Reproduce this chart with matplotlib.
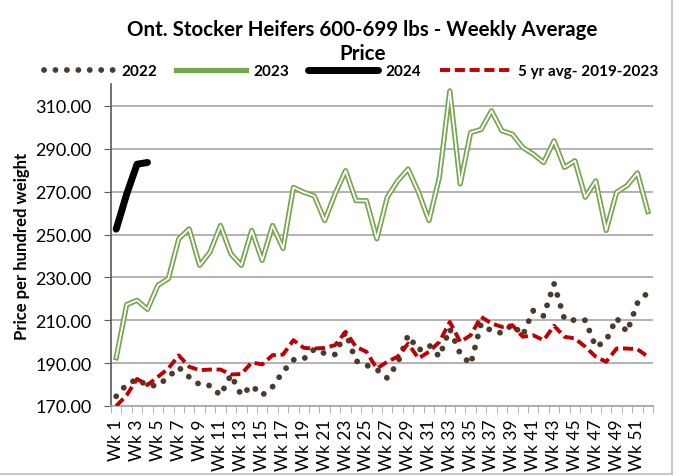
import matplotlib.pyplot as plt
from matplotlib.lines import Line2D
import numpy as np

plt.rcParams['font.family'] = ['Lato', 'DejaVu Sans']

# data
weeks = [f'Wk {i}' for i in range(1, 53)]

y2022 = [174.5, 180, 182.5, 179.5, 179.5, 183.5, 188, 183.5, 180, 179.5,
         175, 184.5, 175, 179.5, 175, 179, 186, 191.5, 192, 196.5,
         194.5, 194, 204.5, 191, 189, 187, 183, 190, 203, 196,
         198.5, 193, 206, 194.3, 189.5, 208.3, 205, 204, 208, 203,
         214.5, 212, 227, 210.5, 210, 210, 197.5, 200.5, 211, 204.5,
         218, 223]

y2023 = [192.5, 217.3, 219.3, 215.1, 226.3, 229.4, 248, 252.6, 235.6, 241.8,
         254.2, 241, 235.6, 251.9, 237.9, 254.2, 243.5, 272, 269.7, 268,
         256.5, 269, 279.8, 265.8, 265.8, 248, 267.4, 275, 280.5, 269.7,
         256.5, 276.7, 317, 273.6, 297.6, 299, 307.7, 298.4, 296.8, 290.6,
         287.5, 283.6, 293.7, 281.3, 284.4, 267.4, 275, 251.9, 269.7, 272.8,
         278.7, 260.7]

y2024 = [252.5, 268.8, 282.8, 283.6]

avg5 = [170, 175, 182.6, 179.8, 183.6, 187.5, 193.6, 188.3, 186.7, 187,
        187, 184.7, 184.9, 190.3, 189.4, 193.7, 194, 200.7, 197.1, 196.8,
        197.1, 198.4, 204.6, 197.6, 195.3, 187.5, 190.6, 193, 199.1, 192.2,
        195.3, 199.9, 209.2, 199.9, 203, 211.6, 208.5, 206.9, 207.7, 202.3,
        203, 200.7, 207.4, 202.3, 201.5, 197.6, 193, 190.6, 196.8, 196.8,
        196.5, 193]

c22, c23, c24, cavg = '#4B3A2E', '#77A64F', 'black', '#C00000'
dots = (0, (0.01, 1.95))
dashes = (0, (2.6, 1.2))

fig = plt.figure(figsize=(6.81, 4.77), dpi=100)
ax = fig.add_axes([0.163, 0.1468, 0.796, 0.674])

x = np.arange(len(weeks))

# 2022 - round dots
ax.plot(x, y2022, color=c22, lw=4.2, linestyle=dots, dash_capstyle='round', zorder=3)
# 2023 - double line (green with white core)
ax.plot(x, y2023, color=c23, lw=3.8, zorder=4)
ax.plot(x, y2023, color='white', lw=1.3, zorder=5)
# 2024 - thick black
ax.plot(np.arange(len(y2024)), y2024, color=c24, lw=5, solid_capstyle='round', zorder=6)
# 5 yr avg - red dashed
ax.plot(x, avg5, color=cavg, lw=2.8, linestyle=dashes, zorder=3)

ax.set_xlim(-0.5, len(weeks) - 0.5)
ax.set_ylim(170, 320)
yt = np.arange(170, 311, 20)
ax.set_yticks(yt)
ax.set_yticklabels([f'{v:.2f}' for v in yt])
ax.grid(axis='y', color='#A6A6A6', lw=1.2)
ax.set_axisbelow(True)

# category ticks between weeks, labels every other week
ax.set_xticks(x[::2])
ax.set_xticklabels(weeks[::2], rotation=90)
ax.set_xticks(np.arange(-0.5, len(weeks)), minor=True)
ax.tick_params(axis='x', which='major', length=0, labelsize=12.5, pad=9)
ax.tick_params(axis='x', which='minor', length=5, color='#A6A6A6')
ax.tick_params(axis='y', length=5, color='#595959', labelsize=13, pad=9)

for s in ['top', 'right']:
    ax.spines[s].set_visible(False)
ax.spines['left'].set_color('#595959')
ax.spines['left'].set_linewidth(1.2)
ax.spines['bottom'].set_color('#A6A6A6')
ax.spines['bottom'].set_linewidth(1.2)

ax.set_ylabel('Price per hundred weight', fontsize=12, fontweight='bold', labelpad=4)

fig.text(0.532, 0.912, 'Ont. Stocker Heifers 600-699 lbs - Weekly Average\nPrice',
         ha='center', va='center', fontsize=14.8, fontweight='bold',
         linespacing=1.2)

handles = [
    Line2D([], [], color=c22, lw=4.2, linestyle=dots, dash_capstyle='round'),
    Line2D([], [], color=c23, lw=3.8),
    Line2D([], [], color=c24, lw=5, solid_capstyle='round'),
    Line2D([], [], color=cavg, lw=2.8, linestyle=dashes),
]
fig.legend(handles, ['2022', '2023', '2024', '5 yr avg- 2019-2023'],
           loc='center', bbox_to_anchor=(0.515, 0.849), ncol=4,
           frameon=False, handlelength=4.6, handletextpad=0.5,
           columnspacing=1.2, prop={'weight': 'bold', 'size': 11})

# chart border (right and bottom edges visible)
fig.add_artist(Line2D([0.987, 0.987], [0.005, 1.0], color='#BFBFBF', lw=1.2))
fig.add_artist(Line2D([0.0, 0.987], [0.005, 0.005], color='#BFBFBF', lw=1.2))

plt.savefig('out.png', dpi=100)
